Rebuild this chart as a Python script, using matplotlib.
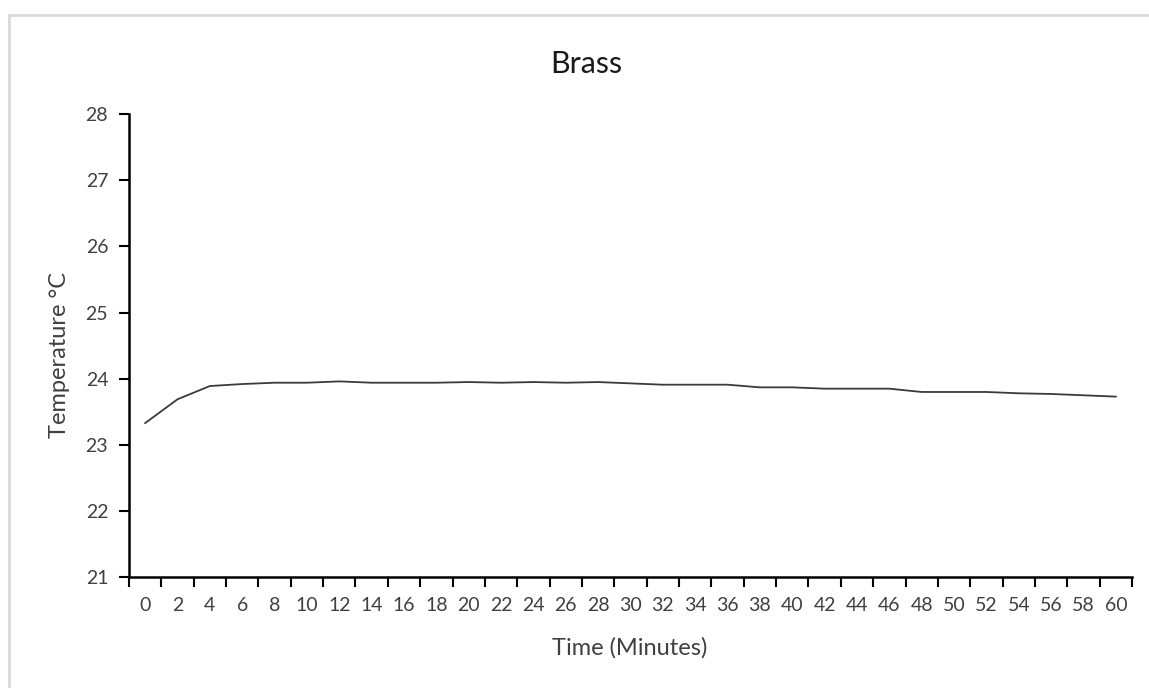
import matplotlib
matplotlib.use("Agg")
import matplotlib.pyplot as plt
from matplotlib.patches import Rectangle
from matplotlib.ticker import FixedLocator, NullFormatter

plt.rcParams['font.family'] = ['Lato', 'DejaVu Sans']

# Time in minutes (categories) and measured temperature
minutes = [str(m) for m in range(0, 61, 2)]
temperature = [23.33, 23.69, 23.89, 23.92, 23.94, 23.94, 23.96, 23.94, 23.94, 23.94,
               23.95, 23.94, 23.95, 23.94, 23.95, 23.93, 23.91, 23.91, 23.91, 23.87,
               23.87, 23.85, 23.85, 23.85, 23.80, 23.80, 23.80, 23.78, 23.77, 23.75,
               23.73]
y_ticks = [21, 22, 23, 24, 25, 26, 27, 28]

title = "Brass"
x_label = "Time (Minutes)"
y_label = "Temperature °C"

text_color = "#404040"

fig = plt.figure(figsize=(11.49, 6.88), dpi=100)
fig.patch.set_facecolor("white")

# light grey chart-area frame
fig.patches.append(Rectangle((9 / 1149, -0.05), 1.2, 1 - 15 / 688 + 0.05,
                             transform=fig.transFigure, fill=False,
                             edgecolor="#d9d9d9", linewidth=2))

ax = fig.add_axes([129 / 1149, 1 - 577.3 / 688, (1132 - 129) / 1149, (577.3 - 114) / 688])

pos = list(range(len(minutes)))
ax.plot(pos, temperature, color="#3a3a3a", linewidth=1.3, solid_joinstyle="round")

ax.set_xlim(-0.5, len(minutes) - 0.5)
ax.set_ylim(min(y_ticks), max(y_ticks))

# tick marks between categories, labels centred on categories
ax.xaxis.set_major_locator(FixedLocator([p - 0.5 for p in range(len(minutes) + 1)]))
ax.xaxis.set_major_formatter(NullFormatter())
ax.xaxis.set_minor_locator(FixedLocator(pos))
ax.set_xticklabels(minutes, minor=True)
ax.tick_params(axis="x", which="major", direction="out", length=7, width=1.5, color="black")
ax.tick_params(axis="x", which="minor", length=0, pad=14, labelsize=14, labelcolor=text_color)

ax.set_yticks(y_ticks)
ax.tick_params(axis="y", direction="out", length=7, width=1.5, color="black",
               labelsize=14, labelcolor=text_color, pad=8)

for side in ("top", "right"):
    ax.spines[side].set_visible(False)
for side in ("left", "bottom"):
    ax.spines[side].set_linewidth(1.8)
    ax.spines[side].set_color("black")

fig.text(586 / 1149, 1 - 64 / 688, title, ha="center", va="center",
         fontsize=22, color="#1a1a1a")
fig.text(630 / 1149, 1 - 648 / 688, x_label, ha="center", va="center",
         fontsize=17, color=text_color)
fig.text(60 / 1149, 1 - 355 / 688, y_label, ha="center", va="center",
         rotation=90, fontsize=17, color=text_color)

fig.savefig("out.png", dpi=100, facecolor="white")
